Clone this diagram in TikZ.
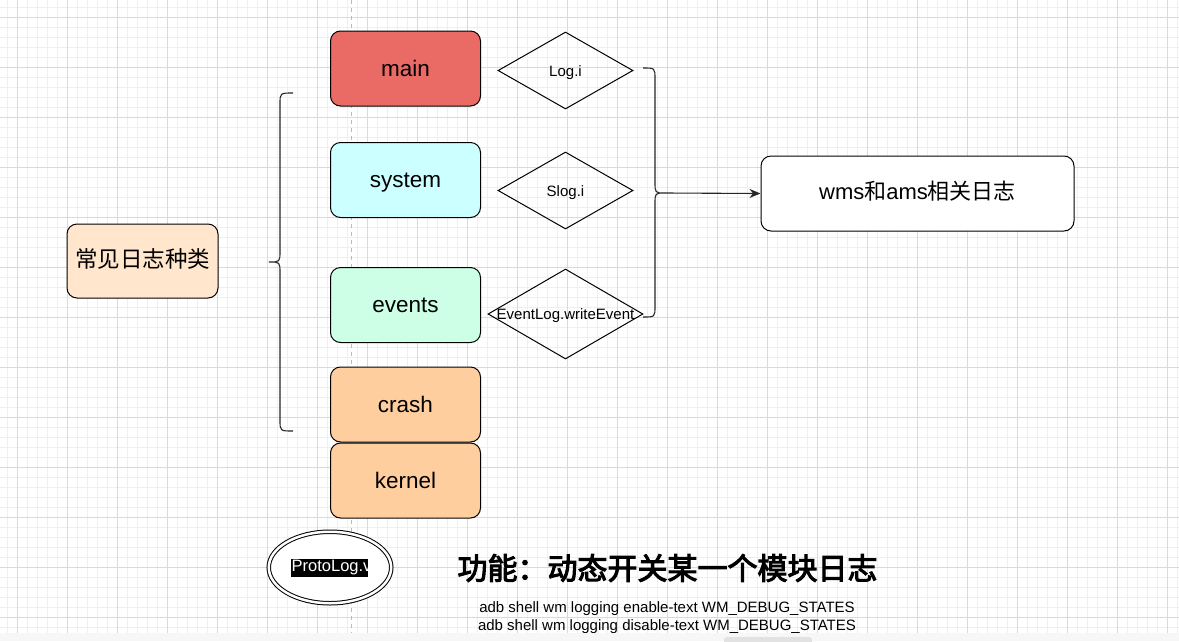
\documentclass[tikz,border=0pt]{standalone}
\usepackage{fontspec}
\setmainfont{Liberation Sans}
\newfontfamily\cjk{Noto Sans CJK SC}
\newfontfamily\cjkb{Noto Sans CJK SC}[FakeBold=3.5]
\usetikzlibrary{shapes.geometric,arrows.meta}
\definecolor{gminor}{HTML}{EFEFEF}
\definecolor{gmajor}{HTML}{DADADA}
\definecolor{cmain}{HTML}{EA6B66}
\definecolor{csys}{HTML}{CCFFFF}
\definecolor{cevt}{HTML}{CCFFE6}
\definecolor{ccrash}{HTML}{FFCE9F}
\definecolor{ckind}{HTML}{FFE6CC}
\definecolor{cstrip}{HTML}{F7F7F7}
\definecolor{cscroll}{HTML}{E2E2E2}
\definecolor{cdash}{HTML}{BBBBBB}
\tikzset{
  box/.style={draw=black, line width=1pt, rounded corners=10pt, minimum width=150pt, minimum height=75pt, inner sep=0pt, font=\fontsize{22.5}{26}\selectfont, text height=19pt, text depth=4pt},
  diam/.style={draw=black, line width=1pt, diamond, inner sep=0pt},
  dlabel/.style={font=\fontsize{15}{18}\selectfont, inner sep=0pt, text height=14pt, text depth=2pt},
  brace/.style={draw=black!85, line width=1.1pt},
  conn/.style={draw=black!85, line width=1.1pt, -{Stealth[length=11pt,width=9pt]}},
}
\begin{document}
\begin{tikzpicture}[x=1pt,y=-1pt]
\useasboundingbox (0,0) rectangle (1179,641);
\fill[white] (0,0) rectangle (1179,641);
% grid
\foreach \x in {7,17,...,1177} \draw[gminor, line width=0.8pt] (\x,0) -- (\x,641);
\foreach \y in {7,17,...,637} \draw[gminor, line width=0.8pt] (0,\y) -- (1179,\y);
\foreach \x in {17,67,...,1167} \draw[gmajor, line width=0.9pt] (\x,0) -- (\x,641);
\foreach \y in {17,67,...,617} \draw[gmajor, line width=0.9pt] (0,\y) -- (1179,\y);
% page boundary dashed line
\draw[cdash, line width=0.9pt, dash pattern=on 4pt off 4pt] (351,0) -- (351,641);

% left node
\node[box, fill=ckind, minimum width=151pt, minimum height=74pt, text height=17pt, text depth=5pt, font=\cjk\fontsize{22.5}{26}\selectfont] (kind) at (142.5,261) {常见日志种类};

% log type boxes
\node[box, fill=cmain] (main) at (405.5,68.5) {main};
\node[box, fill=csys] (system) at (405.5,180) {system};
\node[box, fill=cevt] (events) at (405.5,305) {events};
\node[box, fill=ccrash] (crash) at (405.5,404.5) {crash};
\node[box, fill=ccrash] (kernel) at (405.5,480.5) {kernel};

% diamonds
\node[diam, minimum width=135pt, minimum height=77pt] (logi) at (565.5,70.5) {};
\node[dlabel] (logit) at (logi) {Log.i};
\node[diam, minimum width=135pt, minimum height=77pt] (slogi) at (565.5,190.5) {};
\node[dlabel] (slogit) at (slogi) {Slog.i};
\node[diam, minimum width=155pt, minimum height=90pt] (evlog) at (565.5,314) {};
\node[dlabel] (evlogt) at (565.5,313.5) {EventLog.writeEvent};

% result box
\node[box, fill=white, minimum width=313pt, minimum height=75pt, text height=17pt, text depth=5pt] (wms) at (917.5,193.5)
  {\fontsize{22}{25}\selectfont wms{\cjk 和}ams{\cjk 相关日志}};

% left brace
\coordinate (lbtop) at (293,93);
\coordinate (lbtip) at (269,262);
\coordinate (lbbot) at (293,431);
\draw[brace] (lbtop) .. controls (280,93) .. (280,104) -- (280,251)
  .. controls (280,262) .. (lbtip) .. controls (280,262) .. (280,273)
  -- (280,420) .. controls (280,431) .. (lbbot);

% right brace
\coordinate (rbtop) at (643,68);
\coordinate (rbtip) at (665,193);
\coordinate (rbbot) at (643,317);
\draw[brace] (rbtop) .. controls (655,68) .. (655,79) -- (655,182)
  .. controls (655,193) .. (rbtip) .. controls (655,193) .. (655,204)
  -- (655,306) .. controls (655,317) .. (rbbot);
\draw[conn] (rbtip) -- (wms.west);

% ProtoLog double ellipse
\node[ellipse, draw=black, line width=1pt, double, double distance=2.5pt, fill=white,
      minimum width=122.5pt, minimum height=71.5pt, inner sep=0pt] (proto) at (330,567.5) {};
\begin{scope}
  \clip (291,559) rectangle (368,577);
  \fill[black] (291,559) rectangle (368,577);
  \node[anchor=west, inner sep=0pt, text=white, font=\fontsize{16.5}{19}\selectfont] (protot) at (291.5,568) {ProtoLog.v};
\end{scope}

% title and commands
\node[font=\cjkb\fontsize{30}{34}\selectfont, inner sep=0pt] (title) at (667.5,568) {功能：动态开关某一个模块日志};
\node[font=\fontsize{15}{18}\selectfont, align=center, inner sep=0pt] (cmds) at (667,618)
  {adb shell wm logging enable-text WM\_DEBUG\_STATES\\adb shell wm logging disable-text WM\_DEBUG\_STATES};

% bottom strip of the window
\fill[cstrip] (0,633) rectangle (1179,641);
\fill[cscroll, rounded corners=3pt] (724,637) rectangle (812,645);
\end{tikzpicture}
\end{document}
